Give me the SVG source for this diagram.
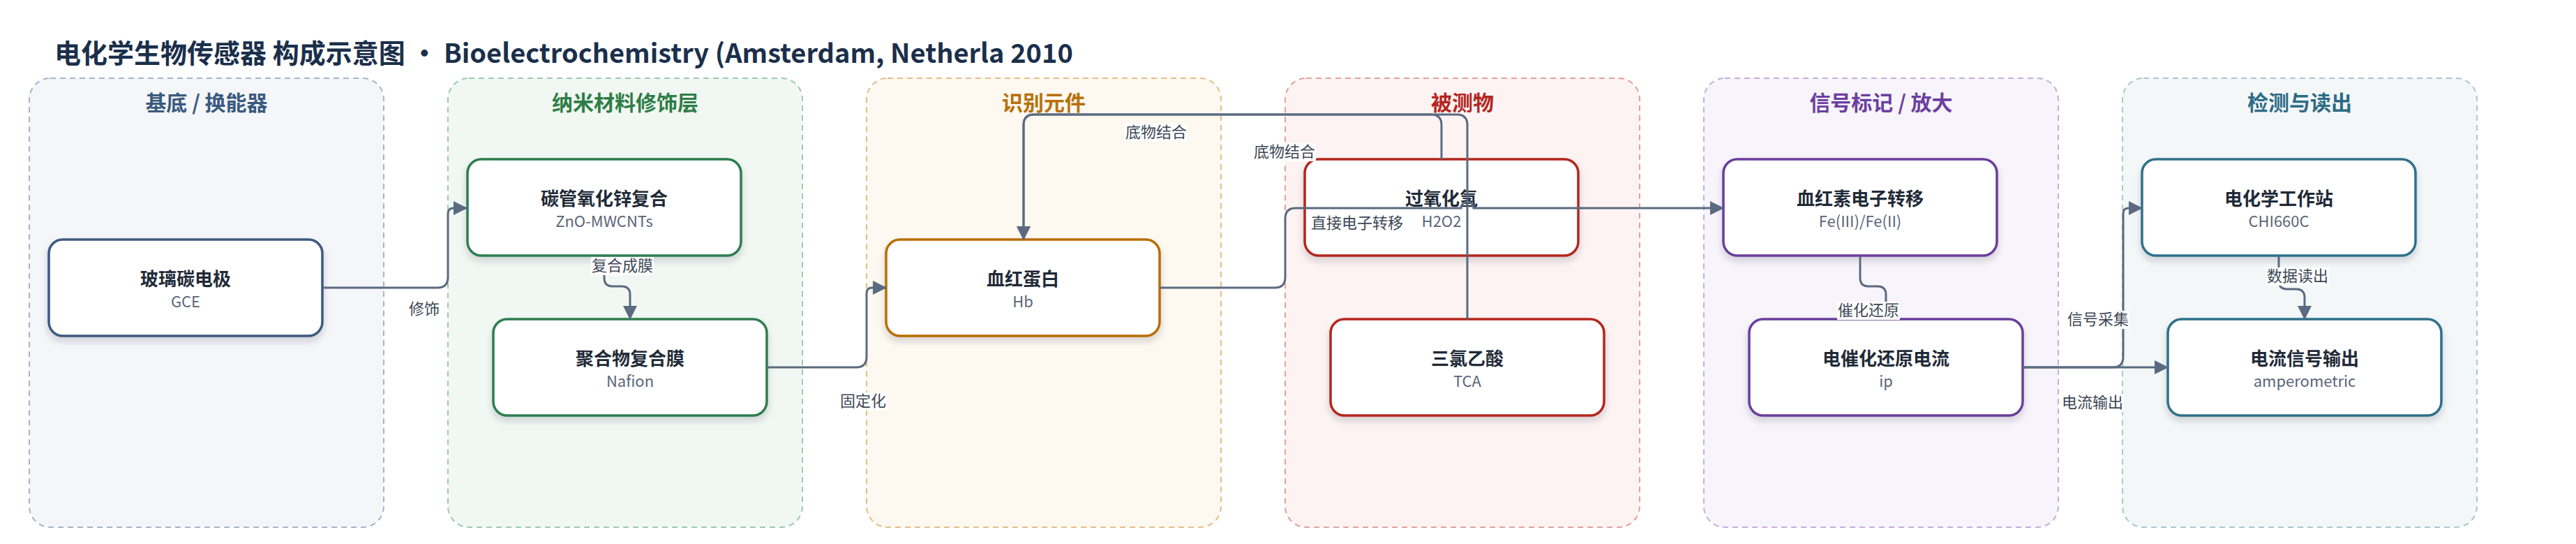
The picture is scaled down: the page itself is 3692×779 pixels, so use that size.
<svg xmlns="http://www.w3.org/2000/svg" width="3692" height="779" viewBox="0 0 3692 779">
<style>
text{font-family:"Noto Sans CJK SC","Noto Sans",sans-serif}
.gt{font-size:30px;font-weight:700;text-anchor:middle}
.grp{stroke-width:2;stroke-dasharray:8 6}
.node rect{fill:#fff;stroke-width:3.5;filter:url(#sh)}
.nt{font-size:26px;font-weight:700;fill:#1f2a37;text-anchor:middle}
.ns{font-size:22px;fill:#5b6577;text-anchor:middle}
.e{fill:none;stroke:#5a6a80;stroke-width:3}
.ea{marker-end:url(#ar)}
.lb{fill:#fff}
.lt{font-size:22px;fill:#3d4756;text-anchor:middle}
</style>
<defs>
<filter id="sh" x="-10%" y="-20%" width="120%" height="150%"><feDropShadow dx="0" dy="6" stdDeviation="5" flood-color="#1e293b" flood-opacity="0.18"/></filter>
<marker id="ar" markerUnits="userSpaceOnUse" markerWidth="20" markerHeight="20" refX="19" refY="10" orient="auto"><path d="M0,0 L20,10 L0,20 z" fill="#5a6a80"/></marker>
</defs>
<rect width="3692" height="779" fill="#fff"/>
<text x="78" y="90" font-size="38" font-weight="700" fill="#1b2f4b">电化学生物传感器 构成示意图 • Bioelectrochemistry (Amsterdam, Netherla 2010</text>

<g id="groups">
<g id="g-substrate"><rect class="grp" x="42" y="112" width="508" height="643" rx="30" fill="#f4f6fa" stroke="#a7b4c6"/><text class="gt" x="296" y="158" fill="#3b5a7e">基底 / 换能器</text></g>
<g id="g-nano"><rect class="grp" x="642" y="112" width="508" height="643" rx="30" fill="#f1f8f3" stroke="#9ccbad"/><text class="gt" x="896" y="158" fill="#2e7d46">纳米材料修饰层</text></g>
<g id="g-recog"><rect class="grp" x="1242" y="112" width="508" height="643" rx="30" fill="#fdf8f0" stroke="#e6bd86"/><text class="gt" x="1496" y="158" fill="#b7700b">识别元件</text></g>
<g id="g-analyte"><rect class="grp" x="1842" y="112" width="508" height="643" rx="30" fill="#fdf3f3" stroke="#e3a09d"/><text class="gt" x="2096" y="158" fill="#b3261e">被测物</text></g>
<g id="g-signal"><rect class="grp" x="2442" y="112" width="508" height="643" rx="30" fill="#f7f4fb" stroke="#c5aee0"/><text class="gt" x="2696" y="158" fill="#6b3fa0">信号标记 / 放大</text></g>
<g id="g-detect"><rect class="grp" x="3042" y="112" width="508" height="643" rx="30" fill="#f3f7f8" stroke="#a9c7d1"/><text class="gt" x="3296" y="158" fill="#2e6b85">检测与读出</text></g>
</g>

<g id="n-gce" class="node"><rect x="70" y="343" width="392" height="138" rx="20" stroke="#3d5a80"/><text class="nt" x="266" y="409">玻璃碳电极</text><text class="ns" x="266" y="440">GCE</text></g>
<g id="n-zno" class="node"><rect x="670" y="228" width="392" height="138" rx="20" stroke="#2e7d4f"/><text class="nt" x="866" y="294">碳管氧化锌复合</text><text class="ns" x="866" y="325">ZnO-MWCNTs</text></g>
<g id="n-nafion" class="node"><rect x="707" y="457" width="392" height="138" rx="20" stroke="#2e7d4f"/><text class="nt" x="903" y="523">聚合物复合膜</text><text class="ns" x="903" y="554">Nafion</text></g>
<g id="n-hb" class="node"><rect x="1270" y="343" width="392" height="138" rx="20" stroke="#b86e00"/><text class="nt" x="1466" y="409">血红蛋白</text><text class="ns" x="1466" y="440">Hb</text></g>
<g id="n-h2o2" class="node"><rect x="1870" y="228" width="392" height="138" rx="20" stroke="#b3261e"/><text class="nt" x="2066" y="294">过氧化氢</text><text class="ns" x="2066" y="325">H2O2</text></g>
<g id="n-tca" class="node"><rect x="1907" y="457" width="392" height="138" rx="20" stroke="#b3261e"/><text class="nt" x="2103" y="523">三氯乙酸</text><text class="ns" x="2103" y="554">TCA</text></g>
<g id="n-fe" class="node"><rect x="2470" y="228" width="392" height="138" rx="20" stroke="#6a3d9a"/><text class="nt" x="2666" y="294">血红素电子转移</text><text class="ns" x="2666" y="325">Fe(III)/Fe(II)</text></g>
<g id="n-ip" class="node"><rect x="2507" y="457" width="392" height="138" rx="20" stroke="#6a3d9a"/><text class="nt" x="2703" y="523">电催化还原电流</text><text class="ns" x="2703" y="554">ip</text></g>
<g id="n-chi" class="node"><rect x="3070" y="228" width="392" height="138" rx="20" stroke="#2f6f8a"/><text class="nt" x="3266" y="294">电化学工作站</text><text class="ns" x="3266" y="325">CHI660C</text></g>
<g id="n-amp" class="node"><rect x="3107" y="457" width="392" height="138" rx="20" stroke="#2f6f8a"/><text class="nt" x="3303" y="523">电流信号输出</text><text class="ns" x="3303" y="554">amperometric</text></g>

<g id="connectors">
<path class="e ea" d="M463,412 H627 Q642,412 642,397 V306 Q642,298 650,298 H669"/>
<path class="e ea" d="M866,367 V398 Q866,410 878,410 H891 Q903,410 903,422 V457"/>
<path class="e ea" d="M1099,526 H1227 Q1242,526 1242,511 V420 Q1242,412 1250,412 H1270"/>
<path class="e ea" d="M2066,228 V179 Q2066,164 2051,164 H1482 Q1467,164 1467,179 V343"/>
<path class="e ea" d="M2103,457 V179 Q2103,164 2088,164 H1482 Q1467,164 1467,179 V343"/>
<path class="e ea" d="M1662,412 H1827 Q1842,412 1842,397 V313 Q1842,298 1857,298 H2094 A9,9 0 0 1 2112,298 H2470"/>
<path class="e ea" d="M2666,367 V398 Q2666,410 2678,410 H2691 Q2703,410 2703,422 V457"/>
<path class="e ea" d="M2899,526 H3028 Q3043,526 3043,511 V306 Q3043,298 3051,298 H3070"/>
<path class="e ea" d="M2899,526 H3107"/>
<path class="e ea" d="M3266,367 V402 Q3266,414 3278,414 H3291 Q3303,414 3303,426 V457"/>
<g id="labels">
<rect class="lb" x="585" y="430" width="46" height="26"/><text class="lt" x="608" y="450">修饰</text>
<rect class="lb" x="847" y="368" width="90" height="26"/><text class="lt" x="892" y="388">复合成膜</text>
<rect class="lb" x="1203" y="562" width="68" height="26"/><text class="lt" x="1237" y="582">固定化</text>
<rect class="lb" x="1612" y="177" width="90" height="26"/><text class="lt" x="1657" y="197">底物结合</text>
<rect class="lb" x="1796" y="205" width="90" height="26"/><text class="lt" x="1841" y="225">底物结合</text>
<rect class="lb" x="1878" y="307" width="134" height="26"/><text class="lt" x="1945" y="327">直接电子转移</text>
<rect class="lb" x="2633" y="432" width="90" height="26"/><text class="lt" x="2678" y="452">催化还原</text>
<rect class="lb" x="2962" y="445" width="90" height="26"/><text class="lt" x="3007" y="465">信号采集</text>
<rect class="lb" x="2954" y="564" width="90" height="26"/><text class="lt" x="2999" y="584">电流输出</text>
<rect class="lb" x="3248" y="383" width="90" height="26"/><text class="lt" x="3293" y="403">数据读出</text>
</g>
</g>
</svg>
